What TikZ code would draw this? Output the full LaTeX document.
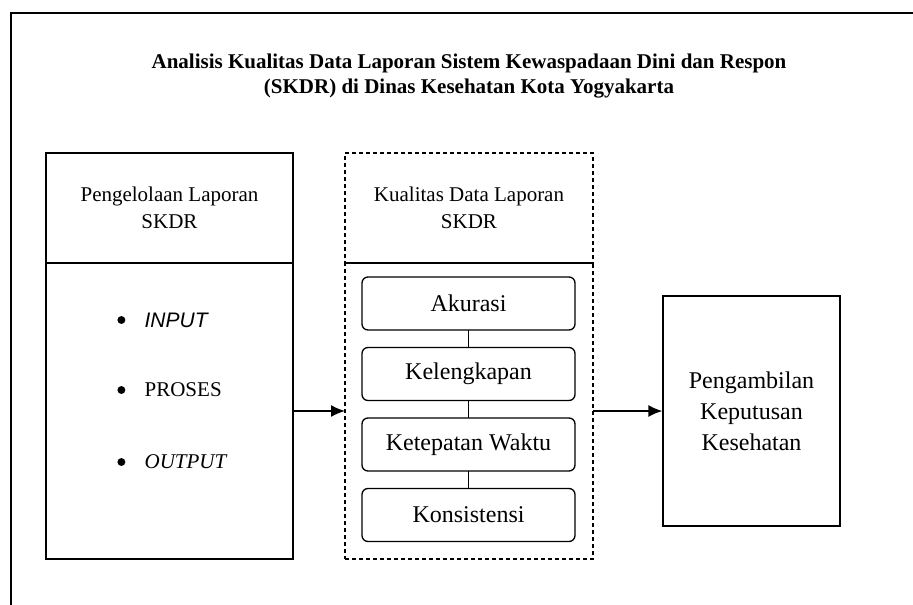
\documentclass[tikz,border=0pt]{standalone}
\usepackage{fontspec}
\setmainfont{Liberation Serif}
\setsansfont{Liberation Sans}
\usetikzlibrary{arrows.meta,positioning}

\begin{document}
\begin{tikzpicture}[x=1pt, y=-1pt, line width=1.3pt, node distance=17.5pt,
    head/.style = {draw, outer sep=0pt, minimum width=247pt, minimum height=110pt, align=center, font=\fontsize{21}{27}\selectfont},
    body/.style = {draw, outer sep=0pt, minimum width=247pt, minimum height=296pt},
    dashbox/.style = {dash pattern=on 4pt off 3pt},
    crit/.style = {draw, rounded corners=6pt, outer sep=0pt, minimum width=213pt, minimum height=53pt, font=\fontsize{24}{28}\selectfont},
    item/.style = {anchor=west, inner sep=0pt, font=\fontsize{21}{25}\selectfont,
        label={[circle, fill, inner sep=2.8pt, label distance=18pt]west:{}}},
    edge/.style = {line width=1.5pt, arrows = {-Latex[width=12pt, length=14pt]}}]
    \useasboundingbox (0,0) rectangle (913,605);
    % outer frame, cut off on the right and at the bottom
    \draw[line width=1.5pt] (11,605) -- (11,13) -- (913,13);
    \node[align=center, font=\bfseries\fontsize{21}{25}\selectfont] (judul) at (469,76)
        {Analisis Kualitas Data Laporan Sistem Kewaspadaan Dini dan Respon\\(SKDR) di Dinas Kesehatan Kota Yogyakarta};
    % pengelolaan
    \node[head] (kelolaHead) at (169.5,208) {Pengelolaan Laporan\\SKDR};
    \node[body, below=0pt of kelolaHead] (kelola) {};
    \node[item] (masuk) at (144,320) {\textsf{\textit{INPUT}}};
    \node[item] (proses) at (144,390) {PROSES};
    \node[item] (keluar) at (144,462) {\textit{OUTPUT}};
    % kualitas data
    \node[head, dashbox, minimum width=248pt] (mutuHead) at (469,208) {Kualitas Data Laporan\\SKDR};
    \node[body, dashbox, minimum width=248pt, below=0pt of mutuHead] (mutu) {};
    \node[crit] (akurasi) at (468.5,303.5) {Akurasi};
    \node[crit, below=of akurasi] (lengkap) {Kelengkapan};
    \node[crit, below=of lengkap] (tepat) {Ketepatan Waktu};
    \node[crit, below=of tepat] (konsisten) {Konsistensi};
    \draw (akurasi) -- (lengkap);
    \draw (lengkap) -- (tepat);
    \draw (tepat) -- (konsisten);
    % keputusan
    \node[draw, minimum width=177pt, minimum height=230pt, align=center, font=\fontsize{24}{31}\selectfont] (keputusan) at (751.5,411)
        {Pengambilan\\Keputusan\\Kesehatan};
    \draw[edge] (kelola.east) -- (mutu.west);
    \draw[edge] (mutu.east) -- (keputusan.west);
\end{tikzpicture}
\end{document}
